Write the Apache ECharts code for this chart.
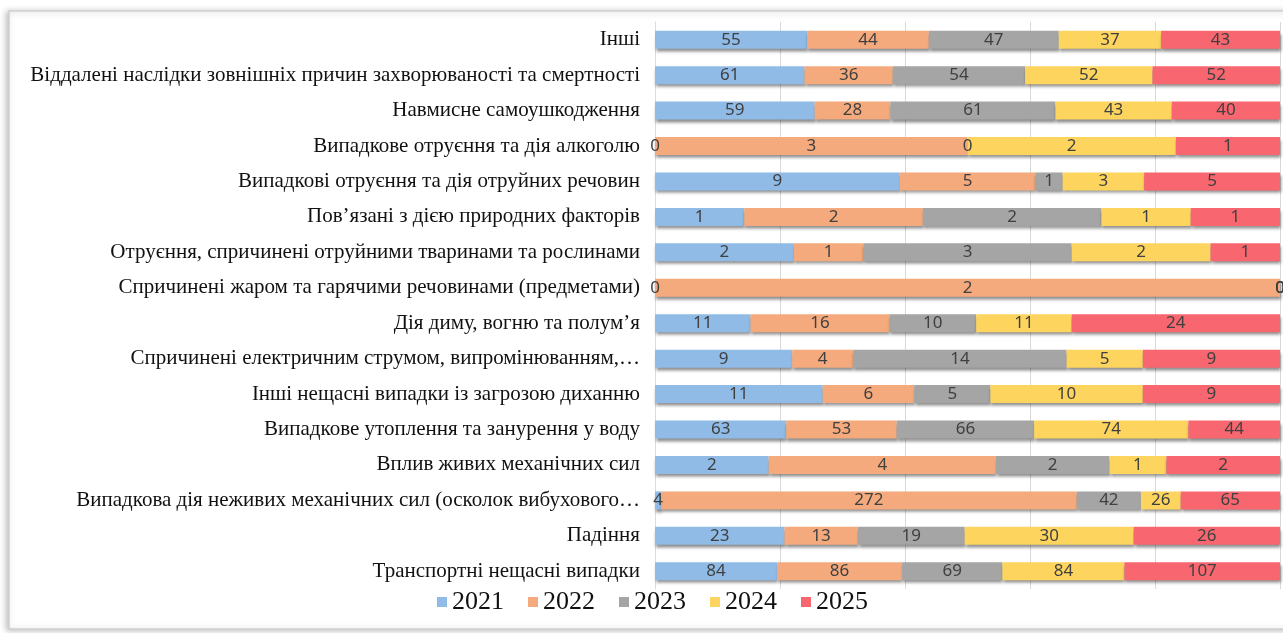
<!DOCTYPE html>
<html>
<head>
<meta charset="utf-8">
<script src="https://cdn.jsdelivr.net/npm/echarts@6/dist/echarts.min.js"></script>
<style>
html,body{margin:0;padding:0;background:#fff;}
#c{width:1283px;height:633px;}
</style>
</head>
<body>
<div id="c"></div>
<script>
// Categories, top to bottom
const categories = [
  "Інші",
  "Віддалені наслідки зовнішніх причин захворюваності та смертності",
  "Навмисне самоушкодження",
  "Випадкове отруєння та дія алкоголю",
  "Випадкові отруєння та дія отруйних речовин",
  "Пов’язані з дією природних факторів",
  "Отруєння, спричинені отруйними тваринами та рослинами",
  "Спричинені жаром та гарячими речовинами (предметами)",
  "Дія диму, вогню та полум’я",
  "Спричинені електричним струмом, випромінюванням,…",
  "Інші нещасні випадки із загрозою диханню",
  "Випадкове утоплення та занурення у воду",
  "Вплив живих механічних сил",
  "Випадкова дія неживих механічних сил (осколок вибухового…",
  "Падіння",
  "Транспортні нещасні випадки"
];
const years = ["2021", "2022", "2023", "2024", "2025"];
const v2021 = [55, 61, 59, 0, 9, 1, 2, 0, 11, 9, 11, 63, 2, 4, 23, 84];
const v2022 = [44, 36, 28, 3, 5, 2, 1, 2, 16, 4, 6, 53, 4, 272, 13, 86];
const v2023 = [47, 54, 61, 0, 1, 2, 3, 0, 10, 14, 5, 66, 2, 42, 19, 69];
const v2024 = [37, 52, 43, 2, 3, 1, 2, 0, 11, 5, 10, 74, 1, 26, 30, 84];
const v2025 = [43, 52, 40, 1, 5, 1, 1, 0, 24, 9, 9, 44, 2, 65, 26, 107];
const colors = ["#8fbbe6", "#f4aa7c", "#a5a5a5", "#fdd55e", "#f8666f"];

const seriesValues = [v2021, v2022, v2023, v2024, v2025];
const totals = categories.map((_, i) => seriesValues.reduce((s, arr) => s + arr[i], 0));
const SERIF = "'Liberation Serif', 'DejaVu Serif', serif";

const chart = echarts.init(document.getElementById('c'), null, {renderer: 'canvas'});
const option = {
  animation: false,
  backgroundColor: '#ffffff',
  textStyle: {fontFamily: SERIF},
  graphic: [{
    type: 'rect',
    z: -10,
    shape: {x: 9, y: 11, width: 1300, height: 618},
    style: {fill: '#ffffff', stroke: '#d0d0d0', lineWidth: 1.5,
            shadowBlur: 6, shadowColor: 'rgba(0,0,0,0.25)', shadowOffsetX: -2, shadowOffsetY: 1}
  }],
  grid: {left: 655, right: 3, top: 22, bottom: 44, containLabel: false},
  legend: {
    data: years,
    bottom: 13,
    left: 432,
    itemWidth: 10,
    itemHeight: 10,
    itemGap: 24,
    icon: 'rect',
    textStyle: {fontFamily: SERIF, fontSize: 26, color: '#111'}
  },
  xAxis: {
    type: 'value',
    min: 0,
    max: 100,
    interval: 20,
    axisLabel: {show: false},
    axisLine: {show: false},
    axisTick: {show: false},
    splitLine: {show: true, lineStyle: {color: '#d9d9d9', width: 1}}
  },
  yAxis: {
    type: 'category',
    data: categories,
    inverse: true,
    axisLine: {show: true, lineStyle: {color: '#dcdcdc'}},
    axisTick: {show: false},
    axisLabel: {
      fontFamily: SERIF,
      fontSize: 21,
      color: '#111',
      margin: 15
    }
  },
  series: years.map((y, k) => ({
    name: y,
    type: 'bar',
    stack: 'total',
    barWidth: 18,
    itemStyle: {
      color: colors[k],
      shadowBlur: 3,
      shadowColor: 'rgba(0,0,0,0.45)',
      shadowOffsetY: 3,
      shadowOffsetX: 1
    },
    label: {
      show: true,
      position: 'inside',
      fontFamily: 'Noto Sans',
      fontSize: 17,
      color: '#404040',
      formatter: p => String(seriesValues[k][p.dataIndex])
    },
    data: seriesValues[k].map((v, i) => totals[i] ? v / totals[i] * 100 : 0)
  }))
};
chart.setOption(option);
</script>
</body>
</html>
